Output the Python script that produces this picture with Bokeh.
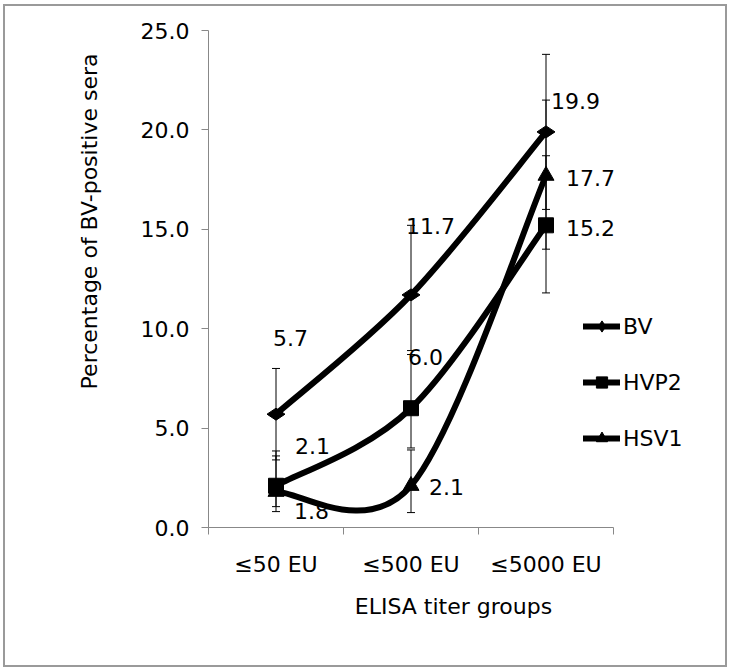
import numpy as np
from bokeh.plotting import figure
from bokeh.models import (ColumnDataSource, FixedTicker, NumeralTickFormatter,
                          Whisker, TeeHead, Legend, LegendItem, Title)
from bokeh.core.properties import value
from bokeh.embed import file_html
from bokeh.resources import INLINE

# ---- data ----
categories = ["≤50 EU", "≤500 EU", "≤5000 EU"]
series_names = ["BV", "HVP2", "HSV1"]
bv = [5.7, 11.7, 19.9]
hvp2 = [2.1, 6.0, 15.2]
hsv1 = [1.8, 2.1, 17.7]
bv_low = [3.4, 8.9, 16.0]
bv_high = [8.0, 15.2, 23.8]
hvp2_low = [1.05, 4.0, 11.8]
hvp2_high = [3.85, 8.7, 18.7]
hsv1_low = [0.8, 0.75, 14.0]
hsv1_high = [3.6, 3.9, 21.5]
y_ticks = [0, 5, 10, 15, 20, 25]

# ---- styles ----
FONT = "DejaVu Sans"
AX = "#888888"
markers = ["diamond", "square", "triangle"]
marker_angles = [np.pi / 2, 0, 0]
marker_sizes = [18, 15, 16]
# data label offsets in screen pixels (dx, dy; dy positive = down)
label_dx = [[-3, -5, 5], [19, -3, 20], [18, 18, 20]]
label_dy = [[-76, -69, -31], [-40, -51, 3], [19, 1, 2]]

AXIS_W = 405          # pixel length of the category axis
FRAME_W = 490         # frame extends right to hold the legend
n_cat = len(categories)
x_pos = [i + 0.5 for i in range(n_cat)]

p = figure(frame_width=FRAME_W, frame_height=497,
           min_border_left=203, min_border_right=27,
           min_border_top=24, min_border_bottom=138,
           x_range=(0, n_cat * FRAME_W / AXIS_W), y_range=(0, 25),
           output_backend="svg", toolbar_location=None)
p.styles = {"border": "2px solid #9a9a9a", "margin-left": "3px", "margin-top": "4px"}
p.outline_line_color = None
p.xgrid.visible = False
p.ygrid.visible = False

# axes
xa = p.xaxis[0]
xa.bounds = (0, n_cat)
xa.ticker = FixedTicker(ticks=x_pos, minor_ticks=list(range(n_cat + 1)))
xa.major_label_overrides = {x: c for x, c in zip(x_pos, categories)}
xa.major_tick_line_color = None
xa.major_tick_out = 0
xa.major_tick_in = 0
xa.minor_tick_line_color = AX
xa.minor_tick_out = 7
xa.minor_tick_in = 0
xa.axis_line_color = AX
xa.major_label_text_font = FONT
xa.major_label_text_font_size = "22px"
xa.major_label_text_color = "black"
xa.major_label_standoff = 17
xa.axis_label = "ELISA titer groups"
xa.axis_label_text_font = FONT
xa.axis_label_text_font_size = "22px"
xa.axis_label_text_font_style = "normal"
xa.axis_label_text_color = "black"
xa.axis_label_standoff = 14

ya = p.yaxis[0]
ya.ticker = FixedTicker(ticks=y_ticks, minor_ticks=[])
ya.formatter = NumeralTickFormatter(format="0.0")
ya.axis_line_color = AX
ya.major_tick_line_color = AX
ya.major_tick_out = 7
ya.major_tick_in = 0
ya.major_label_text_font = FONT
ya.major_label_text_font_size = "22px"
ya.major_label_text_color = "black"
ya.major_label_standoff = 12

p.add_layout(Title(text="Percentage of BV-positive sera", align="right", offset=23,
                   standoff=72, text_font=FONT, text_font_size="22px",
                   text_font_style="normal", text_color="black"), "left")

all_vals = [bv, hvp2, hsv1]
all_low = [bv_low, hvp2_low, hsv1_low]
all_high = [bv_high, hvp2_high, hsv1_high]

items = []
for k, name in enumerate(series_names):
    vals = np.array(all_vals[k], dtype=float)
    xs = np.array(x_pos, dtype=float)
    n = len(vals)
    # Excel-like smoothed line: cubic Bezier segments (Catmull-Rom, 1/6 tension)
    px = np.concatenate([[xs[0]], xs, [xs[-1]]])
    py = np.concatenate([[vals[0]], vals, [vals[-1]]])
    seg = dict(x0=[], y0=[], x1=[], y1=[], cx0=[], cy0=[], cx1=[], cy1=[])
    for i in range(n - 1):
        a, b = i + 1, i + 2
        seg["x0"].append(px[a]); seg["y0"].append(py[a])
        seg["x1"].append(px[b]); seg["y1"].append(py[b])
        seg["cx0"].append(px[a] + (px[b] - px[a - 1]) / 6)
        seg["cy0"].append(py[a] + (py[b] - py[a - 1]) / 6)
        seg["cx1"].append(px[b] - (px[b + 1] - px[a]) / 6)
        seg["cy1"].append(py[b] - (py[b + 1] - py[a]) / 6)
    bsrc = ColumnDataSource(seg)
    r_line = p.bezier(x0="x0", y0="y0", x1="x1", y1="y1", cx0="cx0", cy0="cy0",
                      cx1="cx1", cy1="cy1", source=bsrc, line_color="black",
                      line_width=6, line_cap="round")

    src = ColumnDataSource(dict(x=xs, y=vals, low=all_low[k], high=all_high[k],
                                lab=[f"{v:.1f}" for v in vals],
                                dx=label_dx[k], dy=label_dy[k]))
    w = Whisker(base="x", lower="low", upper="high", source=src, dimension="height",
                line_color="black", line_width=1,
                lower_head=TeeHead(size=8, line_width=1, line_color="black"),
                upper_head=TeeHead(size=8, line_width=1, line_color="black"))
    p.add_layout(w)
    r_mark = p.scatter(x="x", y="y", source=src, marker=markers[k],
                       size=marker_sizes[k], angle=marker_angles[k],
                       fill_color="black", line_color="black")
    p.text(x="x", y="y", text="lab", source=src, x_offset="dx", y_offset="dy",
           text_font=value(FONT), text_font_size="22px", text_color="black",
           text_align="left", text_baseline="middle")
    items.append(LegendItem(label=name, renderers=[r_line, r_mark]))

legend = Legend(items=items, location=(375, 75), orientation="vertical",
                glyph_width=37, glyph_height=28, label_height=28, spacing=28,
                label_standoff=3, padding=0, margin=0,
                border_line_color=None, background_fill_alpha=0,
                label_text_font=FONT, label_text_font_size="22px",
                label_text_color="black")
p.add_layout(legend)

open("out.html", "w").write(file_html(p, INLINE))
